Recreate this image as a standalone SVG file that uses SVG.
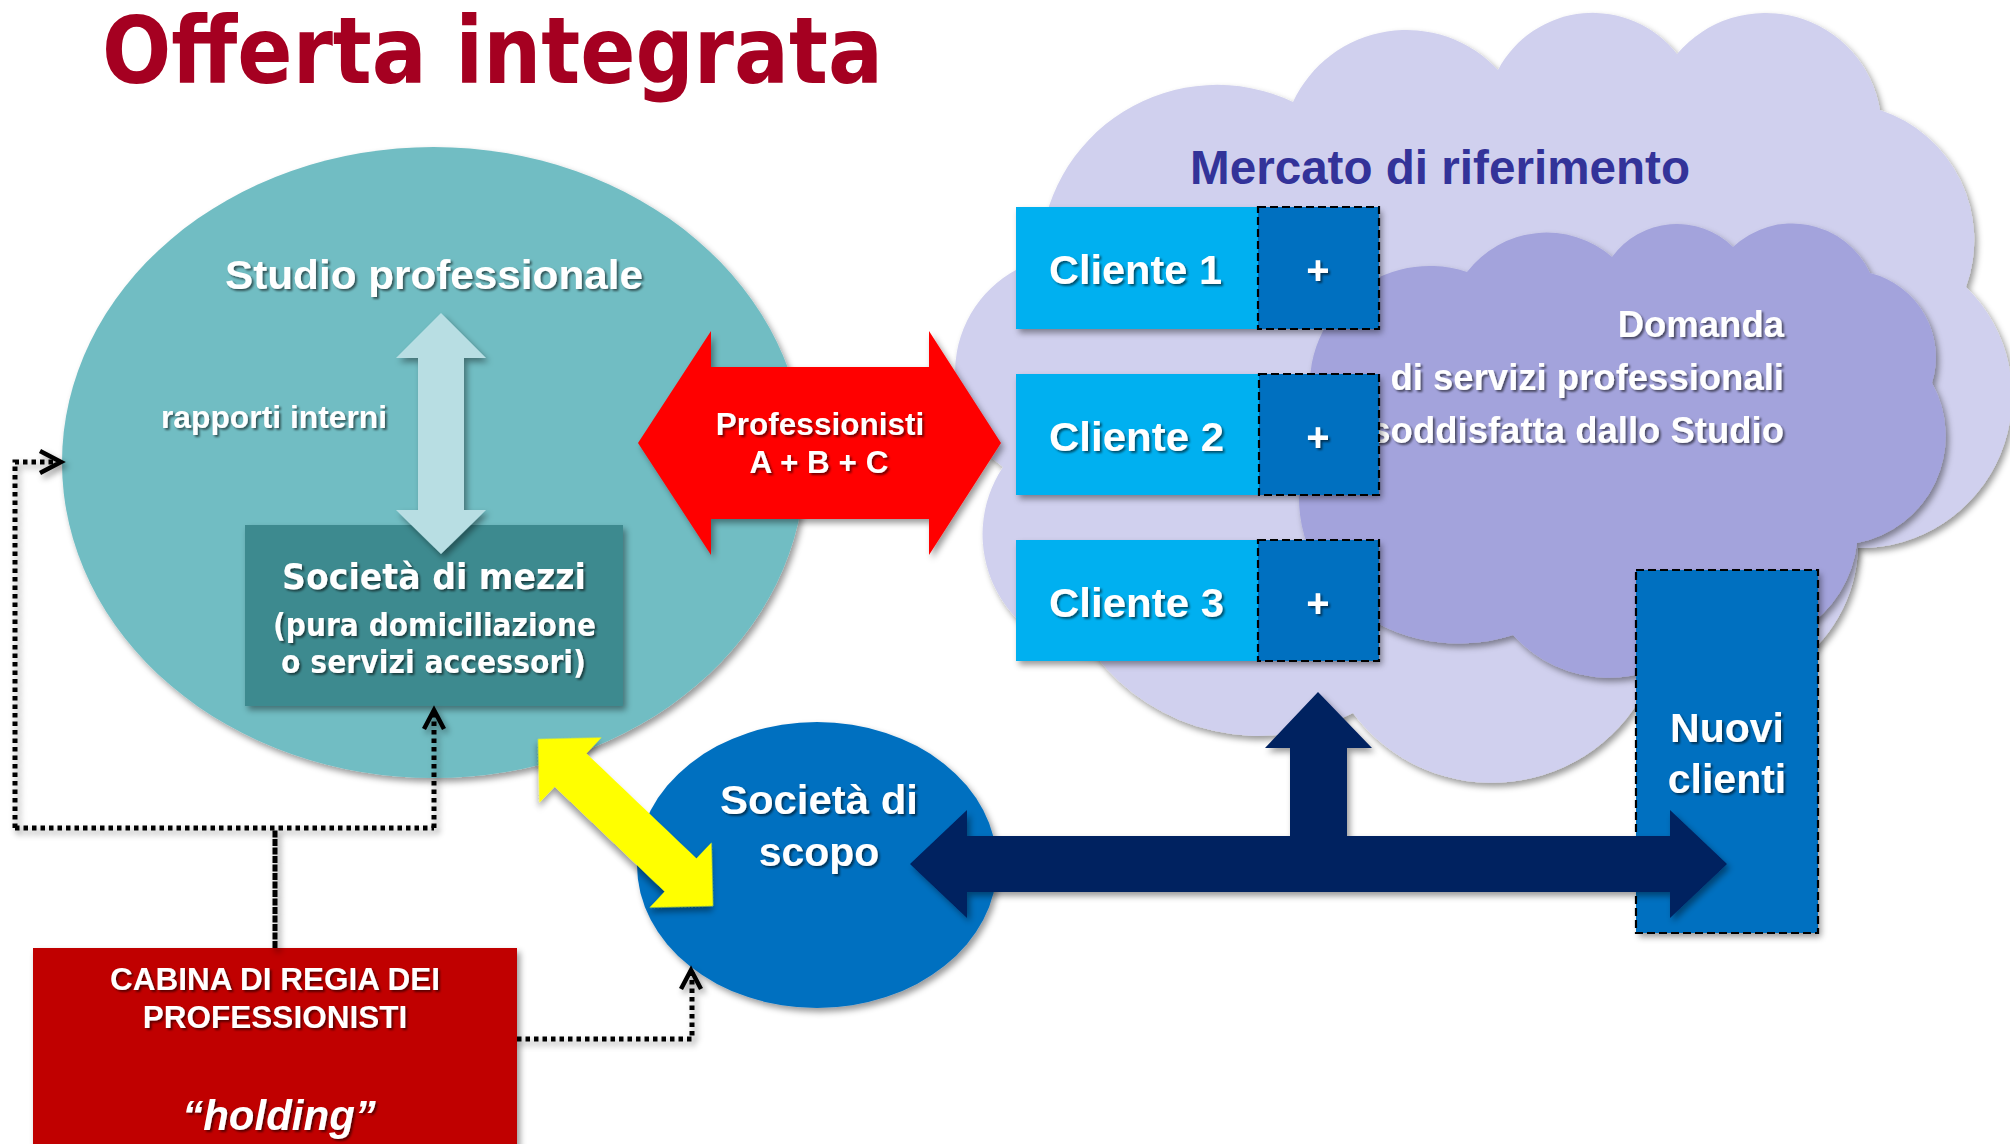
<svg xmlns="http://www.w3.org/2000/svg" width="2010" height="1144" viewBox="0 0 2010 1144">
<defs>
<filter id="sh" x="-10%" y="-10%" width="130%" height="130%"><feDropShadow dx="3" dy="4" stdDeviation="3" flood-color="#000" flood-opacity="0.4"/></filter>
<filter id="tsh" x="-5%" y="-20%" width="115%" height="150%"><feDropShadow dx="2" dy="2" stdDeviation="1.3" flood-color="#000" flood-opacity="0.55"/></filter>
<style>
.w{fill:#fff;font-family:"Liberation Sans",Arial,sans-serif;font-weight:bold;filter:url(#tsh)}
.v{fill:#fff;font-family:"DejaVu Sans",Verdana,sans-serif;font-weight:bold;filter:url(#tsh)}
.c{text-anchor:middle}
.e{text-anchor:end}
.dash{fill:none;stroke:#000;stroke-width:2.2;stroke-dasharray:8 4}
.dot{fill:none;stroke:#000;stroke-width:5;stroke-dasharray:4.5 4}
.dense{fill:none;stroke:#000;stroke-width:5;stroke-dasharray:7 1.5}
.chev{fill:none;stroke:#000;stroke-width:4.5;stroke-linejoin:miter}
</style>
</defs>
<rect width="2010" height="1144" fill="#fff"/>
<text x="102" y="83" font-family="DejaVu Sans,Verdana,sans-serif" font-weight="bold" font-size="92" fill="#A50021" textLength="781" lengthAdjust="spacingAndGlyphs">Offerta integrata</text>

<g id="studio">
<ellipse cx="433.5" cy="462.5" rx="371.5" ry="315.5" fill="#71BDC3" filter="url(#sh)"/>
<text class="w c" x="434" y="289" font-size="41" textLength="418" lengthAdjust="spacingAndGlyphs">Studio professionale</text>
<text class="w" x="161" y="428" font-size="31" textLength="226" lengthAdjust="spacingAndGlyphs">rapporti interni</text>
</g>
<g id="mezzi">
<rect x="245" y="525" width="378" height="181" fill="#3C8A8F" filter="url(#sh)"/>
<text class="v c" x="434" y="589" font-size="36" textLength="304" lengthAdjust="spacingAndGlyphs">Società di mezzi</text>
<text class="v c" x="434.5" y="636" font-size="32" textLength="323" lengthAdjust="spacingAndGlyphs">(pura domiciliazione</text>
<text class="v c" x="433.5" y="673" font-size="32" textLength="305" lengthAdjust="spacingAndGlyphs">o servizi accessori)</text>
</g>

<g id="mercato">
<path d="M1003,467 A117,117 0 0 1 1040,260 A177,177 0 0 1 1293,102 A125,125 0 0 1 1498,70 A107,107 0 0 1 1677,54 A116,116 0 0 1 1880,110 A137,137 0 0 1 1966,287 A152,152 0 0 1 1858,548 A149,149 0 0 1 1650,680 A173,173 0 0 1 1353,713 A206,206 0 0 1 1095,655 A121,121 0 0 1 1003,467 Z" fill="#D0D0EE" filter="url(#sh)"/>
<text x="1190" y="184" font-family="Liberation Sans,Arial,sans-serif" font-weight="bold" font-size="47.5" fill="#333399" textLength="500" lengthAdjust="spacingAndGlyphs">Mercato di riferimento</text>
</g>
<g id="domanda">
<path d="M1318,430 A120,120 0 0 1 1467,272 A100,100 0 0 1 1612,257 A80,80 0 0 1 1733,247 A86,86 0 0 1 1870,273 A87,87 0 0 1 1932,383 A109,109 0 0 1 1857,543 A117,117 0 0 1 1700,640 A129,129 0 0 1 1513,635 A160,145 0 0 1 1318,430 Z" fill="#A3A3DC" filter="url(#sh)"/>
<text class="w e" x="1784" y="337" font-size="36.5">Domanda</text>
<text class="w e" x="1784" y="390" font-size="36.5">di servizi professionali</text>
<text class="w e" x="1784" y="443" font-size="36.5">soddisfatta dallo Studio</text>
</g>

<g id="cliente1">
<rect x="1016" y="207" width="363" height="122" fill="#00B0F0" filter="url(#sh)"/>
<rect x="1258" y="207" width="121" height="122" fill="#0070C0"/>
<rect x="1258" y="207" width="121" height="122" class="dash"/>
<text class="w" x="1049" y="284" font-size="41" textLength="173" lengthAdjust="spacingAndGlyphs">Cliente 1</text>
<text class="w c" x="1318" y="284" font-size="40">+</text>
</g>
<g id="cliente2">
<rect x="1016" y="374" width="363" height="121" fill="#00B0F0" filter="url(#sh)"/>
<rect x="1259" y="374" width="120" height="121" fill="#0070C0"/>
<rect x="1259" y="374" width="120" height="121" class="dash"/>
<text class="w" x="1049" y="451" font-size="41" textLength="175" lengthAdjust="spacingAndGlyphs">Cliente 2</text>
<text class="w c" x="1318" y="451" font-size="40">+</text>
</g>
<g id="cliente3">
<rect x="1016" y="540" width="363" height="121" fill="#00B0F0" filter="url(#sh)"/>
<rect x="1258" y="540" width="121" height="121" fill="#0070C0"/>
<rect x="1258" y="540" width="121" height="121" class="dash"/>
<text class="w" x="1049" y="617" font-size="41" textLength="175" lengthAdjust="spacingAndGlyphs">Cliente 3</text>
<text class="w c" x="1318" y="617" font-size="40">+</text>
</g>

<g id="nuovi">
<rect x="1636" y="570" width="182" height="363" fill="#0070C0" filter="url(#sh)"/>
<rect x="1636" y="570" width="182" height="363" class="dash"/>
<text class="w c" x="1727" y="742" font-size="41">Nuovi</text>
<text class="w c" x="1727" y="793" font-size="41">clienti</text>
</g>

<g id="scopo">
<ellipse cx="817" cy="865" rx="180" ry="143" fill="#0070C0" filter="url(#sh)"/>
<text class="w c" x="819" y="814" font-size="41" textLength="198" lengthAdjust="spacingAndGlyphs">Società di</text>
<text class="w c" x="819" y="866" font-size="41">scopo</text>
</g>

<g id="holding">
<rect x="33" y="948" width="484" height="210" fill="#C00000" filter="url(#sh)"/>
<text class="w c" x="275" y="990" font-size="31.5">CABINA DI REGIA DEI</text>
<text class="w c" x="275" y="1028" font-size="31.5">PROFESSIONISTI</text>
<text class="w c" x="279" y="1130" font-size="42" font-style="italic">“holding”</text>
</g>

<g id="connectors">
<polygon points="441,313 486,358 464,358 464,510 486,510 441,554 396,510 418,510 418,358 396,358" fill="#B8DEE3" filter="url(#sh)"/>
<polygon points="638,443 711,331 711,367 929,367 929,331 1001,443 929,555 929,519 711,519 711,555" fill="#FF0000" filter="url(#sh)"/>
<text class="w c" x="820" y="435" font-size="31.5">Professionisti</text>
<text class="w c" x="819" y="473" font-size="31.5">A + B + C</text>
<polygon transform="translate(538,739) rotate(43.66)" points="0,0 45,-45 45,-23 197,-23 197,-45 242,0 197,45 197,23 45,23 45,45" fill="#FFFF00" filter="url(#sh)"/>
<polygon points="910,864 967,810 967,836 1290,836 1290,748 1265,748 1318,692 1372,748 1347,748 1347,836 1670,836 1670,810 1727,864 1670,918 1670,892 967,892 967,918" fill="#002060" filter="url(#sh)"/>
<g filter="url(#sh)">
<path class="dense" d="M275,948 V830"/>
<path class="dot" d="M15,828 H434"/>
<path class="dot" d="M15,828 V462 H58"/>
<polyline class="chev" points="40,451 61,462 40,473"/>
<path class="dot" d="M434,828 V712"/>
<polyline class="chev" points="424,729 434,710 444,729"/>
<path class="dot" d="M517,1039 H692 V972"/>
<polyline class="chev" points="681,989 691,970 701,989"/>
</g>
</g>
</svg>
